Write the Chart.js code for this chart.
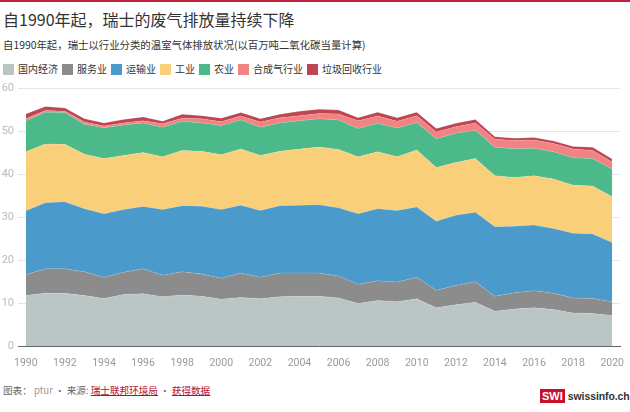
<!DOCTYPE html>
<html>
<head>
<meta charset="utf-8">
<script src="https://cdn.jsdelivr.net/npm/chart.js@4.4.0/dist/chart.umd.min.js"></script>
<style>
  body { margin: 0; width: 630px; height: 412px; background: #fff; position: relative; overflow: hidden;
         font-family: "Noto Sans CJK SC", sans-serif; color: #333; }
  #topline { position: absolute; left: 0; top: 0; width: 630px; height: 2px; background: #c0223b; }
  #title { position: absolute; left: 3px; top: 7px; font-size: 16px; color: #333; white-space: nowrap; }
  #subtitle { position: absolute; left: 3px; top: 37px; font-size: 10.4px; color: #333; white-space: nowrap; }
  #legend { position: absolute; left: 3px; top: 61px; font-size: 10px; white-space: nowrap; }
  #legend span.item { display: inline-block; margin-right: 4px; }
  #legend span.sw { display: inline-block; width: 11px; height: 11px; vertical-align: -2px; margin-right: 4px; }
  #wrap { position: absolute; left: 0; top: 78px; width: 630px; height: 300px; }
  #footer { position: absolute; left: 3px; top: 383px; font-size: 9.6px; color: #666; white-space: nowrap; }
  #footer a { color: #b3102e; text-decoration: underline; }
  #logo { position: absolute; left: 540px; top: 381px; white-space: nowrap; }
  #logo .box { display: inline-block; background: #c8102e; color: #fff; font: bold 11px "Liberation Sans", sans-serif;
               padding: 1px 2px; height: 12px; line-height: 12px; vertical-align: middle; }
  #logo .txt { font: bold 10.5px "Liberation Sans", sans-serif; color: #333; vertical-align: middle; margin-left: 3px; letter-spacing: -0.1px; }
</style>
</head>
<body>
<div id="topline"></div>
<div id="title">自1990年起，瑞士的废气排放量持续下降</div>
<div id="subtitle">自1990年起，瑞士以行业分类的温室气体排放状况(以百万吨二氧化碳当量计算)</div>
<div id="legend"></div>
<div id="wrap"><canvas id="chart"></canvas></div>
<div id="footer">图表： <span style="color:#999">ptur</span> • 来源: <a>瑞士联邦环境局</a> • <a>获得数据</a></div>
<div id="logo"><span class="box">SWI</span><span class="txt">swissinfo.ch</span></div>
<script>
const years = [1990, 1991, 1992, 1993, 1994, 1995, 1996, 1997, 1998, 1999, 2000,
  2001, 2002, 2003, 2004, 2005, 2006, 2007, 2008, 2009, 2010,
  2011, 2012, 2013, 2014, 2015, 2016, 2017, 2018, 2019, 2020];
const tickYears = [1990, 1992, 1994, 1996, 1998, 2000, 2002, 2004, 2006, 2008, 2010, 2012, 2014, 2016, 2018, 2020];

const seriesNames = ["国内经济", "服务业", "运输业", "工业", "农业", "合成气行业", "垃圾回收行业"];
const seriesColors = ["#bac6c6", "#8c8c8c", "#4a9bcb", "#f9cf79", "#4cb98a", "#f38382", "#bd4652"];

// million tonnes CO2 eq, per sector
const domestic = [11.8, 12.3, 12.3, 11.8, 11.1, 12.0, 12.2, 11.5, 11.9, 11.6, 10.9,
  11.3, 11.0, 11.5, 11.6, 11.6, 11.2, 9.9, 10.6, 10.3, 11.0,
  8.9, 9.6, 10.2, 8.1, 8.6, 8.9, 8.5, 7.7, 7.6, 7.1];
const services = [4.8, 5.7, 5.7, 5.5, 4.9, 5.2, 5.8, 5.0, 5.4, 5.2, 4.9,
  5.7, 5.0, 5.5, 5.4, 5.4, 5.1, 4.5, 4.6, 4.6, 5.0,
  4.1, 4.5, 4.8, 3.5, 3.8, 4.0, 3.8, 3.5, 3.5, 3.2];
const transport = [14.9, 15.4, 15.6, 14.7, 14.8, 14.6, 14.5, 15.3, 15.4, 15.8, 16.0,
  15.8, 15.6, 15.7, 15.8, 15.9, 15.9, 16.4, 16.8, 16.7, 16.4,
  16.1, 16.4, 16.2, 16.2, 15.5, 15.3, 15.1, 15.1, 15.0, 13.8];
const industry = [13.8, 13.7, 13.4, 12.7, 12.9, 12.6, 12.6, 12.3, 12.9, 12.8, 12.8,
  13.1, 12.8, 12.7, 13.1, 13.5, 13.6, 13.3, 13.3, 12.5, 13.3,
  12.5, 12.3, 12.5, 11.9, 11.4, 11.5, 11.5, 11.2, 11.2, 10.7];
const agriculture = [7.2, 7.4, 7.4, 7.0, 7.2, 7.1, 6.9, 6.9, 6.8, 6.6, 6.8,
  6.8, 6.6, 6.6, 6.6, 6.6, 6.9, 6.6, 6.6, 6.7, 6.4,
  6.7, 6.8, 6.6, 6.6, 6.7, 6.4, 6.4, 6.4, 6.4, 6.4];
const synthetic = [0.5, 0.4, 0.3, 0.5, 0.4, 0.5, 0.5, 0.8, 0.7, 1.0, 0.9,
  0.9, 1.2, 1.2, 1.2, 1.2, 1.4, 1.8, 1.7, 1.6, 1.6,
  1.6, 1.5, 1.7, 1.9, 1.9, 1.9, 1.9, 2.0, 1.9, 1.7];
const waste = [1.1, 0.9, 0.8, 0.8, 0.7, 0.8, 0.9, 0.6, 0.9, 0.7, 0.8,
  0.8, 0.8, 0.8, 1.0, 1.0, 0.9, 0.7, 0.9, 0.8, 0.8,
  0.8, 0.8, 0.8, 0.6, 0.5, 0.6, 0.6, 0.6, 0.7, 0.7];

const seriesValues = [domestic, services, transport, industry, agriculture, synthetic, waste];

// html legend
const legend = document.getElementById("legend");
seriesNames.forEach((name, i) => {
  const item = document.createElement("span");
  item.className = "item";
  item.innerHTML = `<span class="sw" style="background:${seriesColors[i]}"></span>${name}`;
  legend.appendChild(item);
});

const datasets = seriesNames.map((name, i) => ({
  label: name,
  data: years.map((y, j) => ({ x: y, y: seriesValues[i][j] })),
  backgroundColor: seriesColors[i],
  borderColor: "rgba(255,255,255,0.25)",
  borderWidth: 0.5,
  pointRadius: 0,
  tension: 0,
  fill: i === 0 ? "origin" : "-1",
}));

new Chart(document.getElementById("chart"), {
  type: "line",
  data: { datasets },
  options: {
    responsive: true,
    maintainAspectRatio: false,
    animation: false,
    layout: { padding: { top: 9, right: 10, bottom: 12, left: 0 } },
    plugins: { legend: { display: false }, tooltip: { enabled: false } },
    scales: {
      x: {
        type: "linear",
        min: 1989.6,
        max: 2020.4,
        afterBuildTicks: (scale) => { scale.ticks = tickYears.map((v) => ({ value: v })); },
        afterFit: (scale) => { scale.height = 20; },
        grid: { display: false },
        border: { display: true, color: "#666", width: 1 },
        ticks: {
          color: "#999",
          font: { family: "Roboto", size: 10.5 },
          padding: 3,
          maxRotation: 0,
          autoSkip: false,
          callback: (v) => String(v),
        },
      },
      y: {
        stacked: true,
        min: 0,
        max: 60,
        afterFit: (scale) => { scale.width = 18; },
        grid: { color: "#e6e6e6", drawTicks: false },
        border: { display: false },
        ticks: {
          stepSize: 10,
          color: "#bbb",
          font: { family: "Roboto", size: 11 },
          padding: 4,
        },
      },
    },
  },
});
</script>
</body>
</html>
